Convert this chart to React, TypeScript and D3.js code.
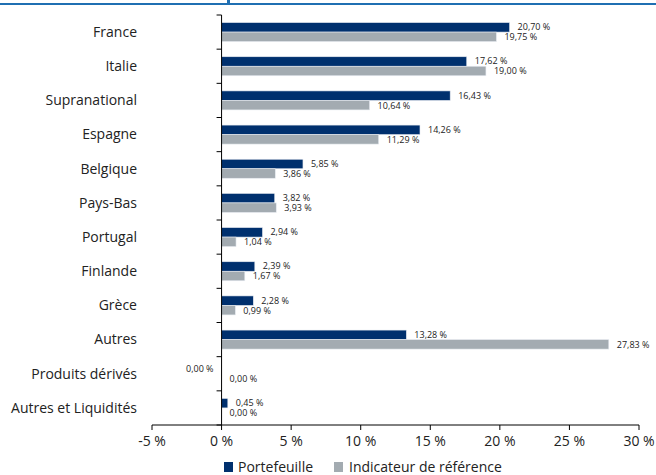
import React from 'react';
import * as d3 from 'd3';

const categories = [
  'France', 'Italie', 'Supranational', 'Espagne', 'Belgique', 'Pays-Bas',
  'Portugal', 'Finlande', 'Grèce', 'Autres', 'Produits dérivés', 'Autres et Liquidités',
];
// Produits dérivés portfolio is a tiny negative (shown as 0,00 % left of the axis)
const portefeuille = [20.70, 17.62, 16.43, 14.26, 5.85, 3.82, 2.94, 2.39, 2.28, 13.28, -0.001, 0.45];
const reference = [19.75, 19.00, 10.64, 11.29, 3.86, 3.93, 1.04, 1.67, 0.99, 27.83, 0.00, 0.00];
const xTicks = [-5, 0, 5, 10, 15, 20, 25, 30];
const seriesNames = ['Portefeuille', 'Indicateur de référence'];

const W = 656;
const H = 475;
const FONT = '"Open Sans", "Noto Sans", sans-serif';
const NAVY = '#00306e';
const GREY = '#a3abb1';

const fmt = (v: number) => `${Math.abs(v).toFixed(2).replace('.', ',')} %`;

export default function App() {
  const x = d3.scaleLinear().domain([-5, 30]).range([152, 639]);
  const y = d3.scaleBand<string>().domain(categories).range([15, 425]);
  const barH = 9.5;

  return (
    <svg width={W} height={H} style={{ position: 'absolute', left: 0, top: 0, background: '#fff' }}
      fontFamily={FONT}>
      <line x1={0} x2={W} y1={4} y2={4} stroke="#1f6fb2" strokeWidth={2} />
      <rect x={227} y={0} width={3} height={3} fill="#1f6fb2" />

      {categories.map((c, i) => {
        const cy = (y(c) ?? 0) + y.bandwidth() / 2;
        const p = portefeuille[i];
        const r = reference[i];
        const y1 = cy - barH;
        const y2 = cy;
        return (
          <g key={c}>
            <text x={137} y={cy} dy="0.35em" textAnchor="end" fontSize={14} fill="#222">{c}</text>
            {p > 0 && (
              <rect x={x(0)} y={y1} width={x(p) - x(0)} height={barH} fill={NAVY}
                stroke="#e6eaf0" strokeWidth={0.6} />
            )}
            {r > 0 && (
              <rect x={x(0)} y={y2} width={x(r) - x(0)} height={barH} fill={GREY}
                stroke="#e6eaf0" strokeWidth={0.6} />
            )}
            <text x={p < 0 ? x(0) - 8 : x(Math.max(p, 0)) + 8} y={y1 + barH / 2} dy="0.33em"
              textAnchor={p < 0 ? 'end' : 'start'} fontSize={9} fill="#222">{fmt(p)}</text>
            <text x={x(r) + 8} y={y2 + barH / 2} dy="0.38em" fontSize={9} fill="#222">{fmt(r)}</text>
          </g>
        );
      })}

      {/* vertical category axis at 0 */}
      <line x1={x(0)} x2={x(0)} y1={15} y2={425} stroke="#000" strokeWidth={1} />
      {d3.range(categories.length + 1).map((k) => {
        const ty = 15 + k * y.step();
        return <line key={k} x1={x(0) - 5} x2={x(0)} y1={ty} y2={ty} stroke="#000" strokeWidth={1} />;
      })}

      {/* bottom value axis */}
      <line x1={x(-5)} x2={x(30)} y1={425} y2={425} stroke="#000" strokeWidth={1} />
      {xTicks.map((t) => (
        <g key={t}>
          <line x1={x(t)} x2={x(t)} y1={425} y2={430} stroke="#000" strokeWidth={1} />
          <text x={x(t)} y={446} textAnchor="middle" fontSize={14} fill="#222">{`${t} %`}</text>
        </g>
      ))}

      {/* legend */}
      <rect x={224} y={462} width={9} height={10} fill={NAVY} />
      <text x={238} y={467} dy="0.35em" fontSize={14} fill="#222">{seriesNames[0]}</text>
      <rect x={334} y={462} width={9} height={10} fill={GREY} />
      <text x={349} y={467} dy="0.35em" fontSize={14} fill="#222">{seriesNames[1]}</text>
    </svg>
  );
}
